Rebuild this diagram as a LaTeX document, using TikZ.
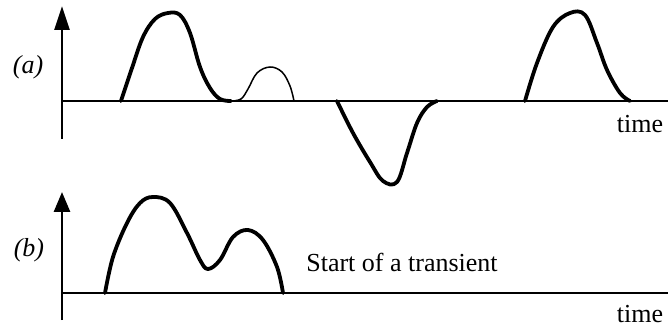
\documentclass[tikz,border=0pt]{standalone}
\usepackage{fontspec}
\setmainfont{Liberation Serif}
\usetikzlibrary{arrows.meta}
\begin{document}
\begin{tikzpicture}[x=1pt,y=-1pt,
  axis/.style={line width=2.8pt,-{Triangle[length=24pt,width=15pt]}},
  baseaxis/.style={line width=2.8pt},
  wave/.style={line width=3.8pt,line join=round,line cap=round},
  thinwave/.style={line width=1.5pt},
  lbl/.style={font=\fontsize{26}{30}\selectfont,inner sep=0pt}]
\useasboundingbox (0,0) rectangle (668,328);
% panel (a)
\draw[axis] (62,139) -- (62,6);
\draw[baseaxis] (62,101) -- (668,101);
\node[lbl,font=\fontsize{26}{30}\selectfont\itshape] (la) at (28,67) {(a)};
\node[lbl] (ta) at (640,124) {time};
\draw[wave] plot[smooth,tension=0.6] coordinates {(121,101) (132,68) (143,37) (155,19) (168,13) (180,15) (190,33) (200,67) (210,88) (220,99) (231,101)};
\draw[thinwave] plot[smooth,tension=0.6] coordinates {(231,101) (241,99) (248,89) (257,73) (270,67) (282,72) (290,86) (294,101)};
\draw[wave] plot[smooth,tension=0.6] coordinates {(337,101) (353,133) (370,162) (383,181) (397,182) (407,153) (417,123) (427,107) (437,101)};
\draw[wave] plot[smooth,tension=0.6] coordinates {(525,101) (537,63) (553,27) (570,13) (585,15) (597,43) (607,70) (620,93) (630,101)};
% panel (b)
\draw[axis,-{Triangle[length=20pt,width=16pt]}] (62,320) -- (62,192);
\draw[baseaxis] (62,293) -- (668,293);
\node[lbl,font=\fontsize{26}{30}\selectfont\itshape] (lb) at (29,250) {(b)};
\node[lbl] (tb) at (640,314) {time};
\node[lbl] (st) at (402,262) {Start of a transient};
\draw[wave] plot[smooth,tension=0.6] coordinates {(105,293) (113,257) (127,223) (140,203) (153,197) (170,203) (187,233) (200,260) (208,269) (220,260) (233,237) (248,230) (263,240) (277,267) (283,293)};
\end{tikzpicture}
\end{document}
